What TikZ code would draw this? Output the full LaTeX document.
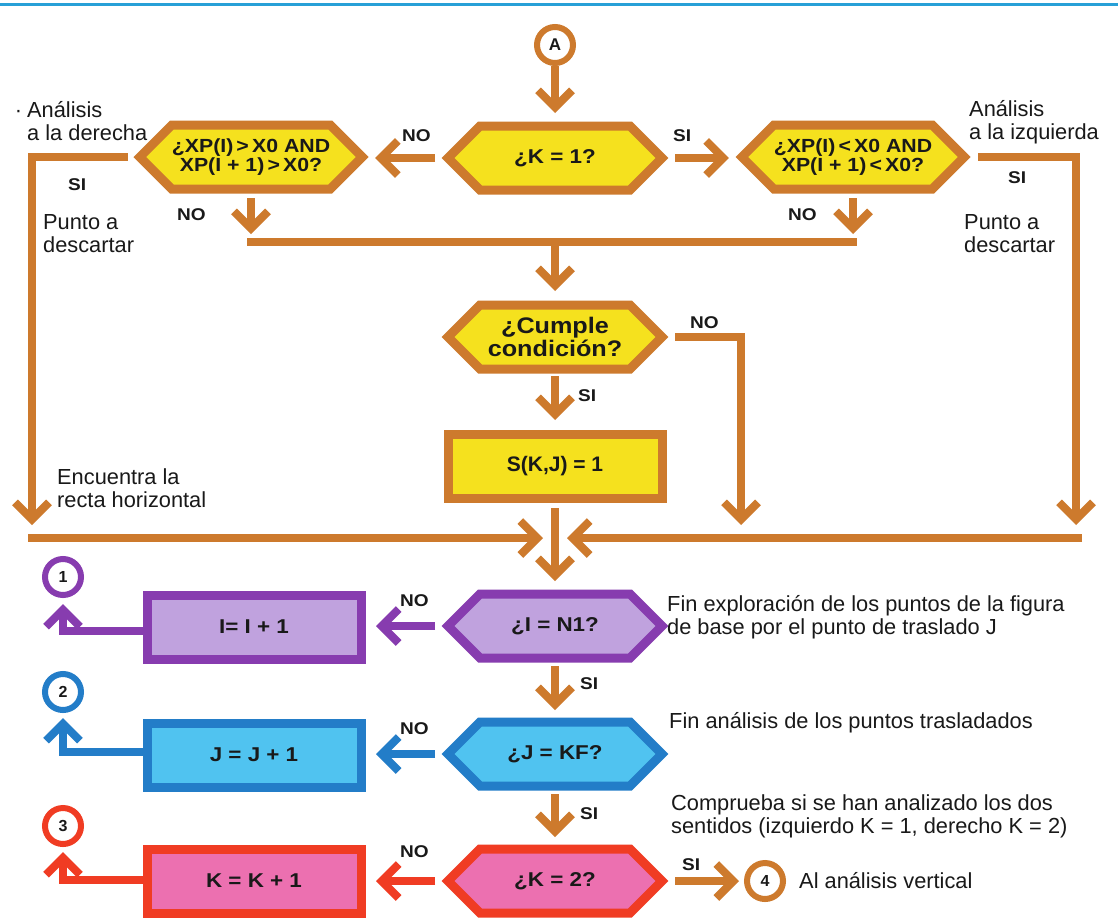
\documentclass[tikz,border=0pt]{standalone}
\usepackage{fontspec}
\setmainfont{Liberation Sans}
\newfontfamily\bfw[FakeStretch=1.12]{Liberation Sans}
\usetikzlibrary{arrows.meta,shapes.symbols,calc}
\definecolor{orng}{RGB}{205,122,45}
\definecolor{yel}{RGB}{245,225,30}
\definecolor{purp}{RGB}{135,60,175}
\definecolor{purpf}{RGB}{192,162,222}
\definecolor{blu}{RGB}{35,125,200}
\definecolor{bluf}{RGB}{80,195,240}
\definecolor{redb}{RGB}{240,60,35}
\definecolor{redf}{RGB}{236,112,176}
\definecolor{topl}{RGB}{40,160,215}
\definecolor{txt}{RGB}{25,25,25}
\newcommand\dscf{\fontsize{21.8}{22.5}\selectfont}
\newcommand\labf{\bfw\bfseries\fontsize{20}{20}\selectfont}
\newcommand\labs{\bfw\bfseries\fontsize{19}{19}\selectfont}
\newcommand\labc{\bfw\bfseries\fontsize{22.5}{23}\selectfont}
\newcommand\ynf{\bfw\bfseries\fontsize{17}{17}\selectfont}
\newcommand\numf{\bfseries\fontsize{16}{16}\selectfont}
\tikzset{
  hexa/.style={shape=signal, signal to=west and east, signal pointer angle=90,
    minimum width=214pt, minimum height=64pt, inner sep=0pt, outer sep=0pt,
    line width=9pt, line join=miter, align=center, font=\labf, text=txt},
  boxa/.style={rectangle, minimum width=214pt, minimum height=64pt, inner sep=0pt,
    outer sep=0pt, line width=9pt, font=\labf, text=txt},
  ring/.style={circle, minimum size=36pt, inner sep=0pt, outer sep=0pt,
    line width=6pt, fill=white, font=\numf, text=txt},
  conn/.style={line width=8pt, line join=miter, draw=orng},
  arr/.style={conn, -{Straight Barb[length=17pt,width=34pt]}},
  note/.style={font=\dscf, align=left, anchor=base west, inner sep=0pt, text=txt},
  yn/.style={font=\ynf, anchor=base west, inner sep=0pt, text=txt},
}
\begin{document}
\begin{tikzpicture}[x=1pt,y=-1pt]
\fill[white] (0,0) rectangle (1118,921);
\useasboundingbox (0,0) rectangle (1118,921);
\draw[topl, line width=3pt] (0,4) -- (1118,4);
% nodes
\node[ring, draw=orng, font=\bfseries\fontsize{17}{17}\selectfont] (A) at (555,45) {A};
\node[hexa, draw=orng, fill=yel] (K) at (555,158) {¿K = 1?};
\node[hexa, draw=orng, fill=yel, font=\labs] (L) at (251,157) {¿XP(I)\,>\,X0 AND\\XP(I + 1)\,>\,X0?};
\node[hexa, draw=orng, fill=yel, font=\labs] (R) at (853,157) {¿XP(I)\,<\,X0 AND\\XP(I + 1)\,<\,X0?};
\node[hexa, draw=orng, fill=yel, font=\labc] (C) at (555,337) {¿Cumple\\condición?};
\node[boxa, draw=orng, fill=yel, font=\bfseries\fontsize{21}{21}\selectfont] (S) at (555,466) {S(K,J) = 1};
\node[hexa, draw=purp, fill=purpf] (H1) at (555,626) {¿I = N1?};
\node[hexa, draw=blu, fill=bluf] (H2) at (555,754) {¿J = KF?};
\node[hexa, draw=redb, fill=redf] (H3) at (555,881) {¿K = 2?};
\node[boxa, draw=purp, fill=purpf] (B1) at (254,627) {I= I + 1};
\node[boxa, draw=blu, fill=bluf] (B2) at (254,755) {J = J + 1};
\node[boxa, draw=redb, fill=redf] (B3) at (254,881) {K = K + 1};
\node[ring, draw=purp] (C1) at (63,577) {1};
\node[ring, draw=blu] (C2) at (63,692) {2};
\node[ring, draw=redb] (C3) at (63,826) {3};
\node[ring, draw=orng] (C4) at (765,881) {4};
% free ends
\coordinate (tl) at (32,525);
\coordinate (tr) at (1076,525);
\coordinate (tm) at (741,525);
\coordinate (ml) at (247,242);
\coordinate (mr) at (857,242);
\coordinate (hl) at (28,538);
\coordinate (hr) at (1082,538);
% connectors
\draw[arr] ($(A.south)+(0,3)$) -- ($(K.north)+(0,-13)$);
\draw[arr] ($(K.west)+(-13,0)$) -- ($(L.east|-K.west)+(13,0)$);
\draw[arr] ($(K.east)+(13,0)$) -- ($(R.west|-K.east)+(-13,0)$);
\draw[arr] ($(L.west)+(-12,0)$) -| (tl);
\draw[arr] ($(R.east)+(14,0)$) -| (tr);
\draw[arr] ($(L.south)+(0,9)$) -- ($(L.south|-ml)+(0,-8)$);
\draw[arr] ($(R.south)+(0,9)$) -- ($(R.south|-mr)+(0,-8)$);
\draw[conn] (ml) -- (mr);
\draw[arr] (C.north|-ml) -- ($(C.north)+(0,-14)$);
\draw[arr] ($(C.east)+(13,0)$) -| (tm);
\draw[arr] ($(C.south)+(0,7)$) -- ($(S.north)+(0,-14)$);
\draw[arr] (hl) -- ($(S.south|-hl)+(-12,0)$);
\draw[arr] (hr) -- ($(S.south|-hr)+(12,0)$);
\draw[arr] ($(S.south)+(0,10)$) -- ($(H1.north)+(0,-13)$);
\draw[arr, draw=purp] ($(H1.west)+(-13,0)$) -- ($(B1.east|-H1.west)+(15,0)$);
\draw[arr, draw=purp] ($(B1.west)+(-4.5,4)$) -| ($(C1.south)+(0,9)$);
\draw[arr] ($(H1.south)+(0,8)$) -- ($(H2.north)+(0,-12)$);
\draw[arr, draw=blu] ($(H2.west)+(-13,0)$) -- ($(B2.east|-H2.west)+(15,0)$);
\draw[arr, draw=blu] ($(B2.west)+(-4.5,-3)$) -| ($(C2.south)+(0,8)$);
\draw[arr] ($(H2.south)+(0,8)$) -- ($(H3.north)+(0,-12)$);
\draw[arr, draw=redb] ($(H3.west)+(-13,0)$) -- ($(B3.east|-H3.west)+(15,0)$);
\draw[arr, draw=redb] ($(B3.west)+(-4.5,-1)$) -| ($(C3.south)+(0,8)$);
\draw[arr] ($(H3.east)+(13,0)$) -- ($(C4.west)+(-8,0)$);
% labels
\node[yn] (n1) at (402,141) {NO};
\node[yn] (s1) at (673,141) {SI};
\node[yn] (s2) at (68,190) {SI};
\node[yn] (n2) at (177,220) {NO};
\node[yn] (n3) at (788,220) {NO};
\node[yn] (s3) at (1008,183) {SI};
\node[yn] (n4) at (690,328) {NO};
\node[yn] (s4) at (578,401) {SI};
\node[yn] (n5) at (400,606) {NO};
\node[yn] (n6) at (400,734) {NO};
\node[yn] (n7) at (400,857) {NO};
\node[yn] (s5) at (580,689) {SI};
\node[yn] (s6) at (580,819) {SI};
\node[yn] (s7) at (682,870) {SI};
% notes (base = baseline of the last line)
\node[note] (d1) at (27,140) {\llap{·\hspace{5pt}}Análisis\\a la derecha};
\node[note] (d2) at (43,252) {Punto a\\descartar};
\node[note] (d3) at (57,507) {Encuentra la\\recta horizontal};
\node[note] (d4) at (969,139) {Análisis\\a la izquierda};
\node[note] (d5) at (964,252) {Punto a\\descartar};
\node[note] (d6) at (667,634) {Fin exploración de los puntos de la figura\\de base por el punto de traslado J};
\node[note] (d7) at (669,728) {Fin análisis de los puntos trasladados};
\node[note] (d8) at (671,833) {Comprueba si se han analizado los dos\\sentidos (izquierdo K = 1, derecho K = 2)};
\node[note] (d9) at (799,888) {Al análisis vertical};
\end{tikzpicture}
\end{document}
